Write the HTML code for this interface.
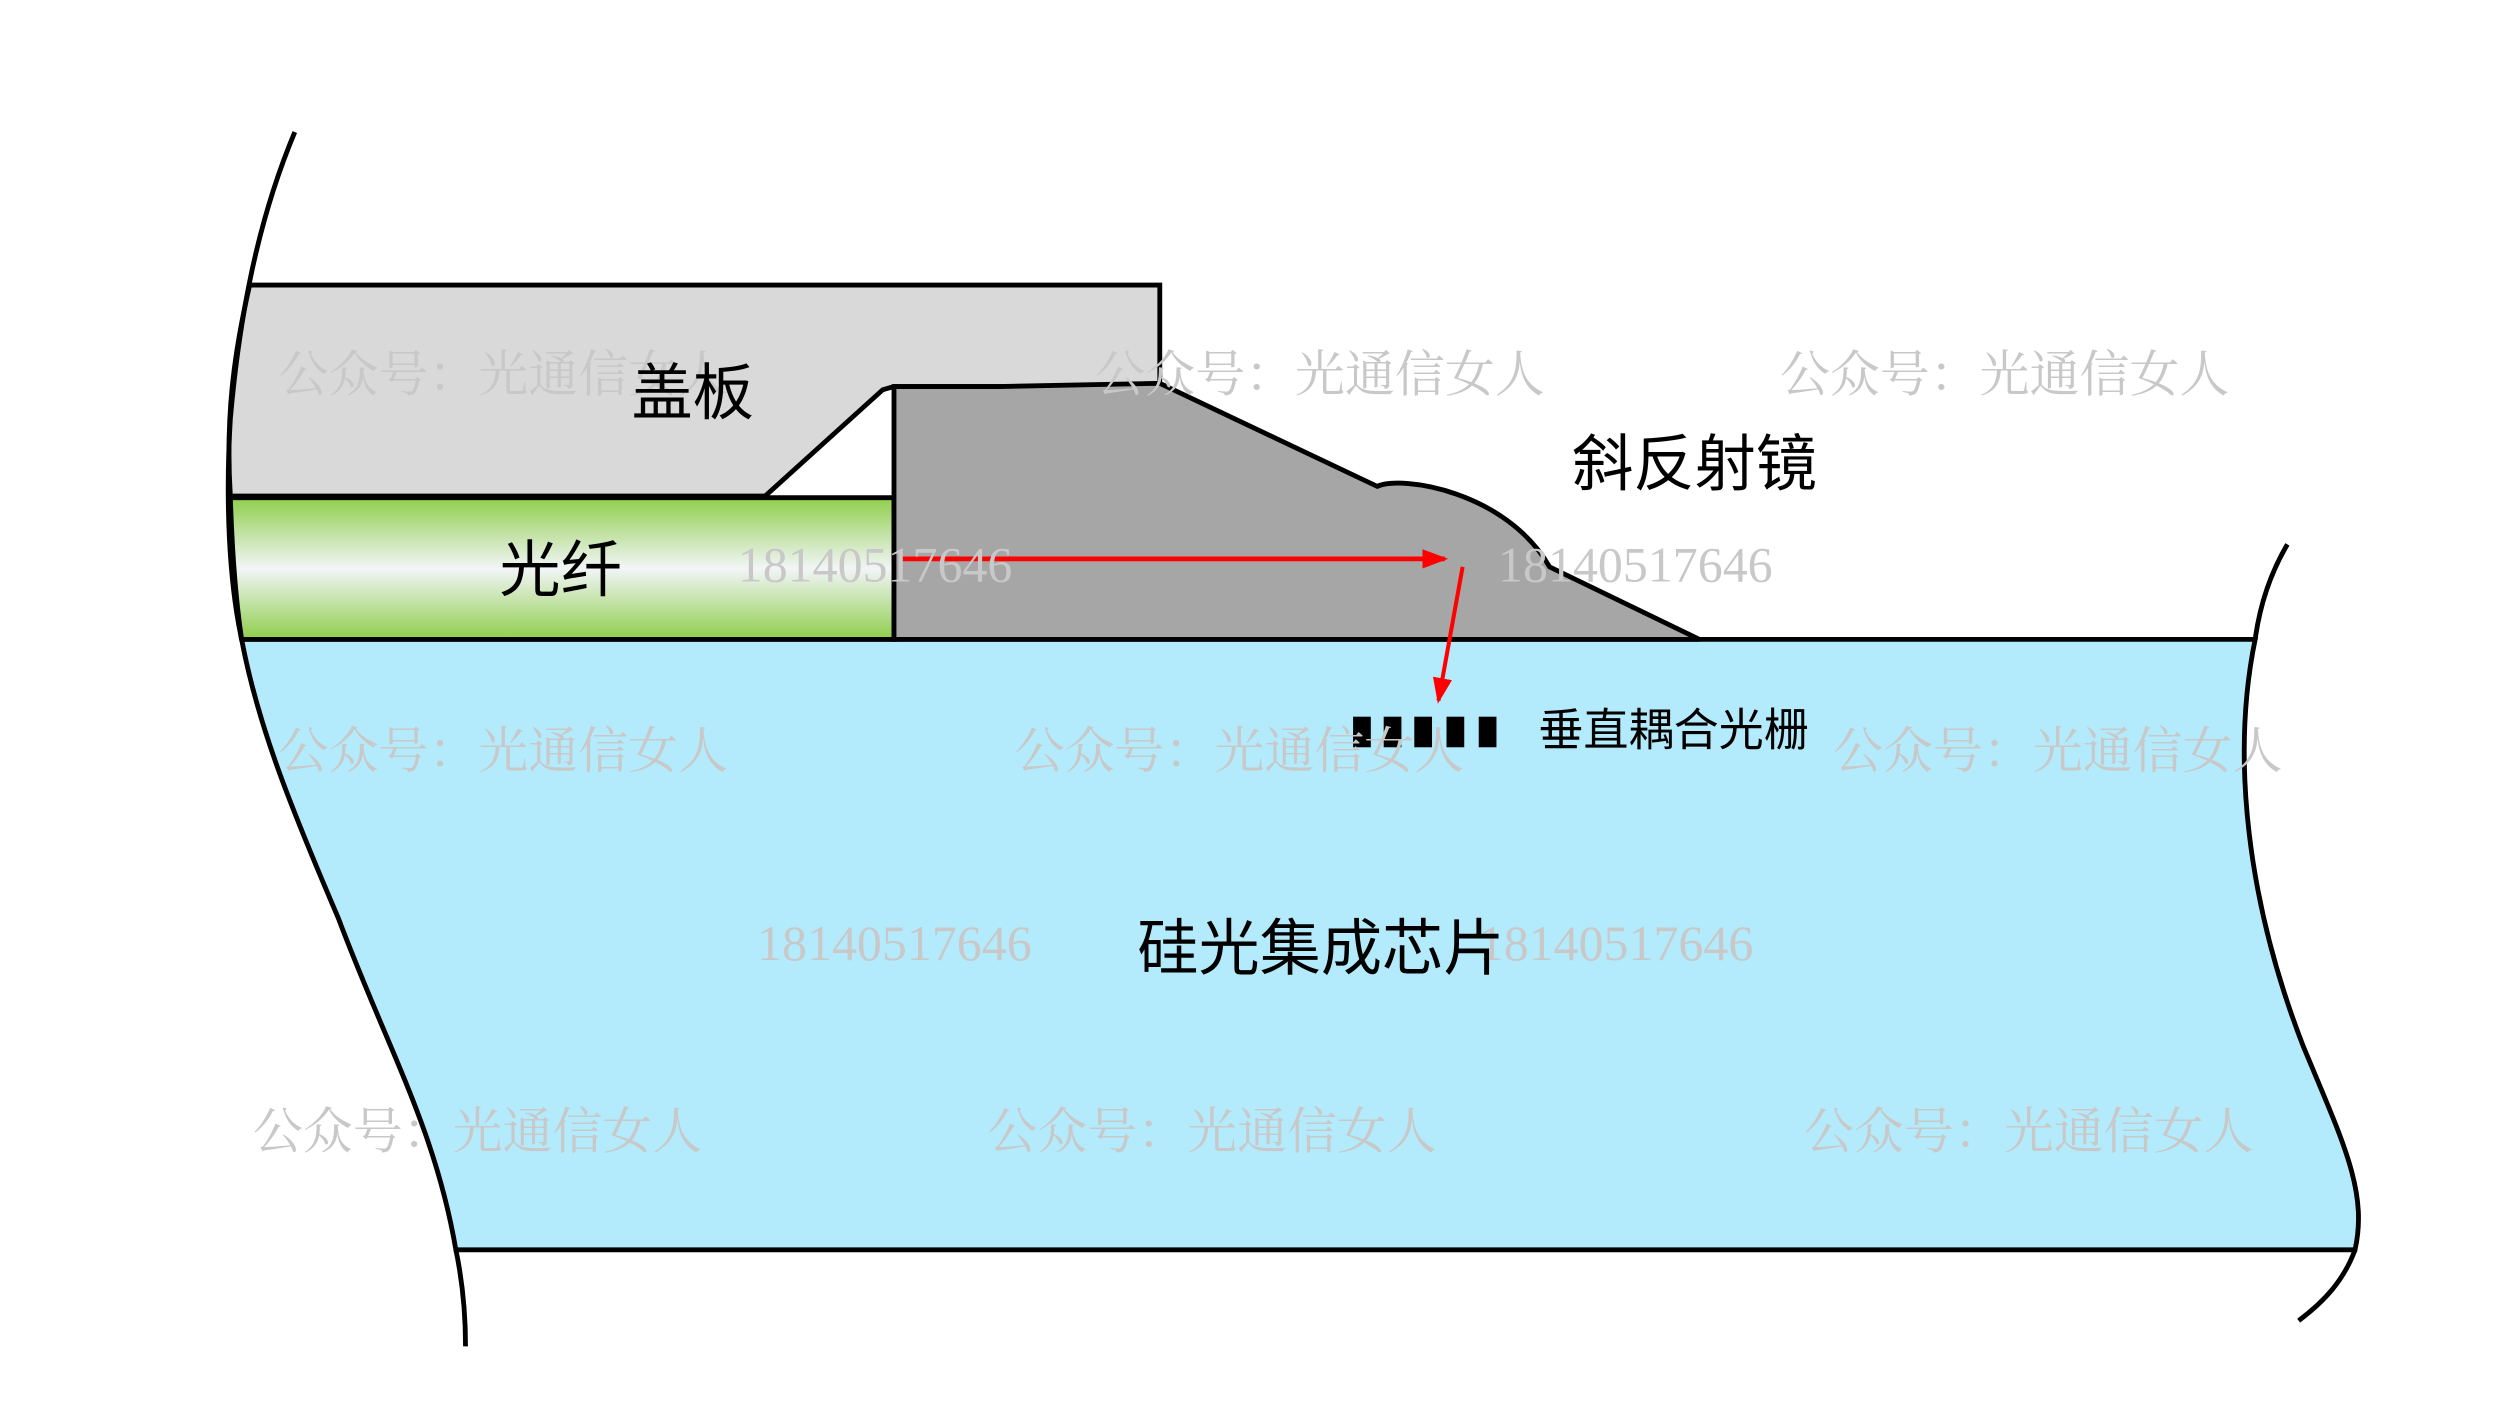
<!DOCTYPE html>
<html><head><meta charset="utf-8"><style>
html,body{margin:0;padding:0;background:#fff;width:2500px;height:1406px;overflow:hidden}
svg{display:block}
.wm{font-family:"Liberation Serif","Noto Serif CJK SC",serif;fill:#c8c8c8;font-size:31px}
.lb{font-family:"Liberation Sans","Noto Sans CJK SC",sans-serif;fill:#000}
</style></head><body>
<svg width="2500" height="1406" viewBox="0 0 1552 873" preserveAspectRatio="none" xmlns="http://www.w3.org/2000/svg">
<defs>
<linearGradient id="fg" x1="0" y1="0" x2="0" y2="1">
<stop offset="0" stop-color="#8fce4c"/><stop offset="0.5" stop-color="#f2f5f7"/><stop offset="1" stop-color="#8fce4c"/>
</linearGradient>
<marker id="ah2" markerWidth="16" markerHeight="12" refX="14" refY="6" orient="auto" markerUnits="userSpaceOnUse">
<path d="M0,0 L16,6 L0,12 z" fill="#f00"/></marker>
</defs>
<path d="M150,397 L1400,397 C1385,470 1395,560 1430,650 C1455,710 1470,740 1462,776 L283,776 C270,700 240,650 210,570 C180,500 160,450 150,397 Z" fill="#b3ebfd" stroke="#000" stroke-width="3"/>
<path d="M155,177 L720,177 L720,240 L620,240 L555,240 L548,242 L475,308 L143,308 C140,260 145,220 155,177 Z" fill="#d9d9d9" stroke="#000" stroke-width="3"/>
<path d="M143,309 L555,309 L555,397 L150,397 C146,370 144,340 143,309 Z" fill="url(#fg)" stroke="#000" stroke-width="3"/>
<path d="M555,397 L555,240 L620,240 L720,238 L855,302 C870,295 935,305 962,352 L1055,397 Z" fill="#a6a6a6" stroke="#000" stroke-width="3"/>
<path d="M183,82 C165,125 150,180 143,260 C140,310 142,360 150,397" fill="none" stroke="#000" stroke-width="3"/>
<path d="M283,776 C287,795 289,815 289,836" fill="none" stroke="#000" stroke-width="3"/>
<path d="M1420,338 C1410,355 1403,375 1400,397" fill="none" stroke="#000" stroke-width="3"/>
<path d="M1462,776 C1455,795 1443,808 1427,820" fill="none" stroke="#000" stroke-width="3"/>
<line x1="558" y1="347" x2="897" y2="347" stroke="#f00" stroke-width="3" marker-end="url(#ah2)"/>
<line x1="908" y1="352" x2="893" y2="435" stroke="#f00" stroke-width="2.5" marker-end="url(#ah2)"/>
<g fill="#000">
<rect x="840" y="445" width="11" height="19"/><rect x="859" y="445" width="11" height="19"/><rect x="878" y="445" width="11" height="19"/><rect x="898" y="445" width="11" height="19"/><rect x="918" y="445" width="11" height="19"/>
</g>
<g class="wm">
<text x="173" y="243">公众号：光通信女人</text>
<text x="680" y="243">公众号：光通信女人</text>
<text x="1105" y="243">公众号：光通信女人</text>
<text x="173" y="477">公众号：光通信女人</text>
<text x="630" y="477">公众号：光通信女人</text>
<text x="1138" y="477">公众号：光通信女人</text>
<text x="157" y="713">公众号：光通信女人</text>
<text x="613" y="713">公众号：光通信女人</text>
<text x="1120" y="713">公众号：光通信女人</text>
<text x="458" y="361">18140517646</text>
<text x="930" y="361">18140517646</text>
<text x="470" y="596">18140517646</text>
<text x="918" y="596">18140517646</text>
</g>
<g class="lb">
<text x="430" y="257" font-size="38" text-anchor="middle">盖板</text>
<text x="348" y="367" font-size="38" text-anchor="middle">光纤</text>
<text x="1052" y="301" font-size="38" text-anchor="middle">斜反射镜</text>
<text x="955" y="463" font-size="28">垂直耦合光栅</text>
<text x="820" y="602" font-size="38" text-anchor="middle">硅光集成芯片</text>
</g>
</svg>
</body></html>
